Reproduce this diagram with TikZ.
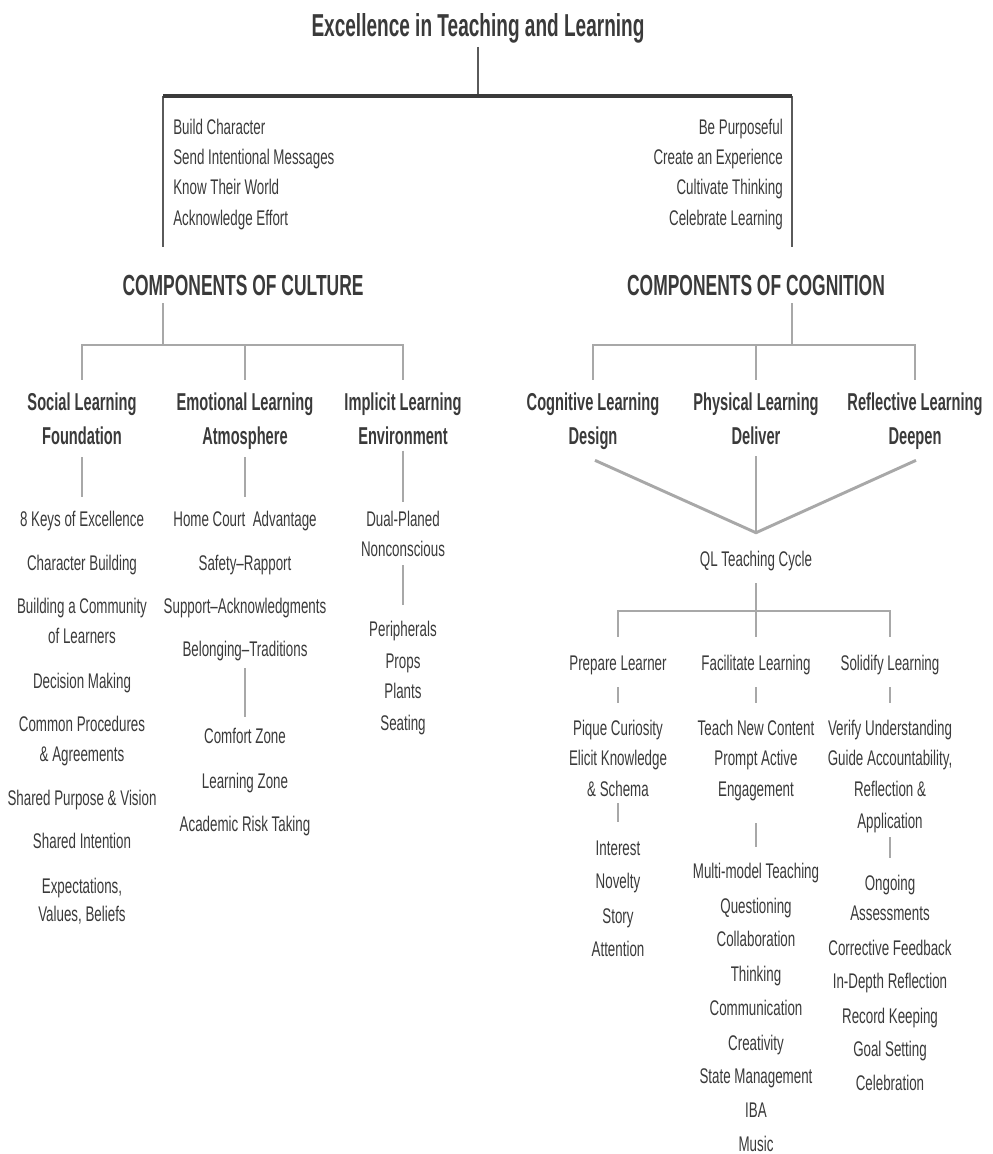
\documentclass[tikz,border=0pt]{standalone}
\usepackage{fontspec}
\setmainfont[FakeStretch=0.63]{Liberation Sans}
\newfontfamily\headfont[FakeStretch=0.6]{Liberation Sans Bold}
\usetikzlibrary{calc}
\definecolor{txt}{HTML}{3A3A3A}
\definecolor{bardark}{HTML}{3A3A3A}
\definecolor{linedark}{HTML}{5A5A5A}
\definecolor{linegray}{HTML}{A8A8A8}

\begin{document}
\begin{tikzpicture}[x=0.75pt, y=-0.75pt,
  item/.style={anchor=base, inner sep=0pt, text=txt, text height=11.5pt,
    text depth=3.3pt, font=\fontsize{15.9}{18}\selectfont},
  head/.style={item, text height=13.4pt, text depth=3.8pt,
    font=\headfont\fontsize{18.3}{21}\selectfont},
  comp/.style={item, text height=15.6pt, text depth=3pt,
    font=\headfont\fontsize{21.8}{25}\selectfont},
  toptitle/.style={item, text height=17.4pt, text depth=5pt,
    font=\headfont\fontsize{23.8}{27}\selectfont},
  thinline/.style={draw=linedark, line width=0.9pt},
  topbar/.style={draw=bardark, line width=3pt},
  grayline/.style={draw=linegray, line width=2.2pt, line join=miter},
  stub/.style={draw=linegray, line width=1.6pt}
]
\useasboundingbox (0,0) rectangle (993,1154);

% Title and the two halves
\node[toptitle] (title) at (478,36) {Excellence in Teaching and Learning};
\coordinate (top-bar) at (478,96);
\coordinate (cul-corner) at (163,96);
\coordinate (cog-corner) at (792,96);

\foreach \txt/\y [count=\i] in {Build Character/134, Send Intentional Messages/164,
    Know Their World/194, Acknowledge Effort/225}
  \node[item, anchor=base west] (cul-msg\i) at (173,\y) {\txt};
\foreach \txt/\y [count=\i] in {Be Purposeful/134, Create an Experience/164,
    Cultivate Thinking/194, Celebrate Learning/225}
  \node[item, anchor=base east] (cog-msg\i) at (783,\y) {\txt};

\node[comp] (culture) at (243,295) {COMPONENTS OF CULTURE};
\node[comp] (cognition) at (756,295) {COMPONENTS OF COGNITION};

\draw[thinline, shorten <=3pt] (title.south) -- (top-bar);
\draw[thinline, shorten >=20pt] (cul-corner) -- (cul-corner |- culture.north);
\draw[thinline, shorten >=20pt] (cog-corner) -- (cog-corner |- cognition.north);
\draw[topbar] (cul-corner) -- (cog-corner);

% Culture side
\coordinate (cul-bar) at (163,345);
\node[head] (soc-head) at (82,410) {Social Learning};
\node[head] (soc-sub) at (82,444) {Foundation};
\node[head] (emo-head) at (245,410) {Emotional Learning};
\node[head] (emo-sub) at (245,444) {Atmosphere};
\node[head] (imp-head) at (403,410) {Implicit Learning};
\node[head] (imp-sub) at (403,444) {Environment};

\draw[grayline, shorten <=3pt] (culture.south -| cul-corner) -- (cul-bar);
\draw[grayline, shorten <=9pt, shorten >=9pt]
  (soc-head.north) -- (soc-head |- cul-bar) -- (imp-head |- cul-bar) -- (imp-head.north);
\draw[grayline, shorten >=9pt] (emo-head |- cul-bar) -- (emo-head.north);

\foreach \txt/\y [count=\i] in {8 Keys of Excellence/526, Character Building/570,
    Building a Community/613, of Learners/643, Decision Making/688,
    Common Procedures/731, \& Agreements/761, Shared Purpose \& Vision/805,
    Shared Intention/848, {Expectations,}/893, {Values, Beliefs}/921}
  \node[item] (soc\i) at (82,\y) {\txt};

\foreach \txt/\y [count=\i] in {Home Court\ \ Advantage/526, Safety–Rapport/570,
    Support–Acknowledgments/613, Belonging–Traditions/656}
  \node[item] (emo\i) at (245,\y) {\txt};
\foreach \txt/\y [count=\i] in {Comfort Zone/743, Learning Zone/788,
    Academic Risk Taking/831}
  \node[item] (zone\i) at (245,\y) {\txt};

\foreach \txt/\y [count=\i] in {Dual-Planed/526, Nonconscious/556}
  \node[item] (env\i) at (403,\y) {\txt};
\foreach \txt/\y [count=\i] in {Peripherals/636, Props/668, Plants/698, Seating/730}
  \node[item] (peri\i) at (403,\y) {\txt};

\draw[stub, shorten <=6pt, shorten >=10.3pt] (soc-sub.south) -- (soc1.north);
\draw[stub, shorten <=6pt, shorten >=10.3pt] (emo-sub.south) -- (emo1.north);
\draw[stub, shorten <=1pt, shorten >=6.5pt] (imp-sub.south) -- (env1.north);
\draw[stub, shorten <=5.7pt, shorten >=8pt] (emo4.south) -- (zone1.north);
\draw[stub, shorten <=3.5pt, shorten >=11.8pt] (env2.south) -- (peri1.north);

% Cognition side
\coordinate (cog-bar) at (792,345);
\node[head] (cgn-head) at (593,410) {Cognitive Learning};
\node[head] (cgn-sub) at (593,444) {Design};
\node[head] (phy-head) at (756,410) {Physical Learning};
\node[head] (phy-sub) at (756,444) {Deliver};
\node[head] (ref-head) at (915,410) {Reflective Learning};
\node[head] (ref-sub) at (915,444) {Deepen};

\draw[grayline, shorten <=3pt] (cognition.south -| cog-corner) -- (cog-bar);
\draw[grayline, shorten <=9pt, shorten >=9pt]
  (cgn-head.north) -- (cgn-head |- cog-bar) -- (ref-head |- cog-bar) -- (ref-head.north);
\draw[grayline, shorten >=9pt] (phy-head |- cog-bar) -- (phy-head.north);

\node[item] (ql) at (756,566) {QL Teaching Cycle};
\coordinate (ql-join) at ($(ql.north)+(0,-17.7)$);
\coordinate (cgn-foot) at ($(cgn-sub.south)+(2,11)$);
\coordinate (ref-foot) at ($(ref-sub.south)+(1,11)$);
\draw[grayline, line join=miter] (cgn-foot) -- (ql-join) -- (ref-foot);
\draw[grayline, shorten <=5.2pt] (phy-sub.south) -- (ql-join);

% QL teaching cycle
\coordinate (ql-bar) at (756,611);
\node[item] (prep) at (618,670) {Prepare Learner};
\node[item] (fac) at (756,670) {Facilitate Learning};
\node[item] (sol) at (890,670) {Solidify Learning};

\draw[grayline, shorten <=9.5pt] (ql.south) -- (ql-bar);
\draw[grayline, shorten <=13.3pt, shorten >=13.3pt]
  (prep.north) -- (prep |- ql-bar) -- (sol |- ql-bar) -- (sol.north);
\draw[grayline, shorten >=13.3pt] (fac |- ql-bar) -- (fac.north);

\foreach \txt/\y [count=\i] in {Pique Curiosity/735, Elicit Knowledge/765, \& Schema/796}
  \node[item] (pq\i) at (618,\y) {\txt};
\foreach \txt/\y [count=\i] in {Interest/855, Novelty/888, Story/923, Attention/956}
  \node[item] (int\i) at (618,\y) {\txt};

\foreach \txt/\y [count=\i] in {Teach New Content/735, Prompt Active/765, Engagement/796}
  \node[item] (tc\i) at (756,\y) {\txt};
\foreach \txt/\y [count=\i] in {Multi-model Teaching/878, Questioning/913,
    Collaboration/946, Thinking/981, Communication/1015, Creativity/1050,
    State Management/1083, IBA/1117, Music/1151}
  \node[item] (mm\i) at (756,\y) {\txt};

\foreach \txt/\y [count=\i] in {Verify Understanding/735, {Guide Accountability,}/765,
    Reflection \&/796, Application/828}
  \node[item] (vu\i) at (890,\y) {\txt};
\foreach \txt/\y [count=\i] in {Ongoing/890, Assessments/920, Corrective Feedback/955,
    In-Depth Reflection/988, Record Keeping/1023, Goal Setting/1056, Celebration/1090}
  \node[item] (og\i) at (890,\y) {\txt};

\draw[stub, shorten <=9.5pt, shorten >=12.5pt] (prep.south) -- (pq1.north);
\draw[stub, shorten <=9.5pt, shorten >=12.5pt] (fac.south) -- (tc1.north);
\draw[stub, shorten <=9.5pt, shorten >=12.5pt] (sol.south) -- (vu1.north);
\draw[stub, shorten <=2pt, shorten >=13.3pt] (pq3.south) -- (int1.north);
\draw[stub, shorten <=17pt, shorten >=11.8pt] (tc3.south) -- (mm1.north);
\draw[stub, shorten <=3.5pt, shorten >=12.5pt] (vu4.south) -- (og1.north);
\end{tikzpicture}
\end{document}
